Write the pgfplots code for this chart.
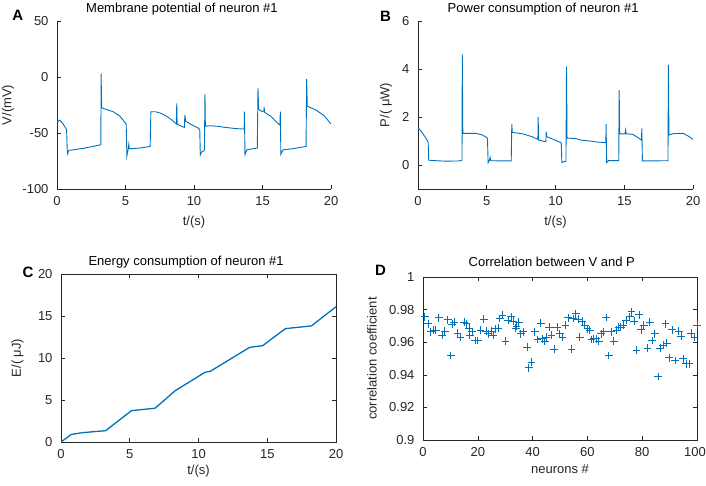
\documentclass[border=0pt]{standalone}
\usepackage{fontspec}
\setmainfont{Liberation Sans}
\usepackage{pgfplots}
\pgfplotsset{compat=1.18}
\definecolor{axgray}{RGB}{38,38,38}
\definecolor{mblue}{RGB}{0,114,189}
\pgfplotsset{
  every axis/.append style={
    scale only axis,
    tick align=inside,
    major tick length=4pt,
    tick label style={font=\fontsize{13}{15}\selectfont, text=axgray},
    label style={font=\fontsize{13}{15}\selectfont, text=axgray},
    title style={font=\fontsize{13}{15}\selectfont, text=black},
    xticklabel style={yshift=-4pt},
    yticklabel style={xshift=-5pt},
  },
  every tick/.append style={axgray, line width=0.6pt},
}
\begin{document}
\begin{tikzpicture}
\path[use as bounding box] (0pt,0pt) rectangle (706pt,-485pt);
% ---------- A ----------
\begin{axis}[at={(57pt,-189pt)}, anchor=south west, width=274pt, height=168pt,
  xmin=0, xmax=20, ymin=-100, ymax=50,
  axis x line=bottom, axis y line=left, axis line style={-, axgray, line width=0.6pt},
  tick align=inside,
  xtick={0,5,10,15,20}, xticklabels={0,5,10,15,20},
  ytick={-100,-50,0,50}, yticklabels={-100,-50,0,50},
  xlabel={t/(s)}, ylabel={V/(mV)},
  title={Membrane potential of neuron \#1},
  title style={at={(axis description cs:0.456,1)}, anchor=base, yshift=2.5pt},
  xlabel style={at={(axis description cs:0.5,-0.196)}, anchor=center},
  ylabel style={at={(axis description cs:-0.179,0.5)}, anchor=center},
]
\addplot[mblue, line width=0.9pt] coordinates {
(0,-40) (0.2,-38.5) (0.45,-42) (0.7,-47) (0.75,-66) (0.78,-68.5) (0.85,-65.5)
(1.2,-65) (2.0,-63.5) (3.2,-60.5) (3.22,3) (3.26,-27.5) (3.6,-29) (4.1,-31)
(4.6,-35) (4.95,-40.5) (5.05,-42) (5.1,-70.5) (5.2,-64) (5.24,-60) (5.28,-64)
(5.4,-64) (6.0,-63.5) (6.8,-62) (6.85,-31) (7.2,-31) (7.6,-32.5) (8.0,-35)
(8.4,-38.5) (8.72,-42) (8.74,-23.5) (8.77,-42) (9.0,-43.5) (9.3,-45) (9.33,-34)
(9.4,-39.5) (9.8,-42.5) (10.3,-45.5) (10.42,-47) (10.46,-69.5) (10.55,-67)
(10.7,-66) (10.76,-65) (10.8,-15) (10.83,-44) (11.2,-43.5) (11.7,-44) (12.3,-45)
(13.0,-46) (13.66,-46.5) (13.68,-31) (13.72,-69.5) (13.85,-65) (14.3,-64)
(14.62,-63.5) (14.67,-10) (14.72,-29) (15.0,-31) (15.1,-30) (15.12,-27)
(15.15,-31.5) (15.6,-35) (16.0,-40) (16.27,-43) (16.3,-31) (16.34,-69)
(16.5,-65) (17.2,-64) (18.18,-62) (18.22,-2) (18.27,-26) (18.9,-29.5)
(19.5,-34.5) (20,-42)
};
\end{axis}
% ---------- B ----------
\begin{axis}[at={(418pt,-189pt)}, anchor=south west, width=275pt, height=168pt,
  xmin=0, xmax=20, ymin=-1, ymax=6,
  axis x line=bottom, axis y line=left, axis line style={-, axgray, line width=0.6pt},
  tick align=inside,
  xtick={0,5,10,15,20}, xticklabels={0,5,10,15,20},
  ytick={0,2,4,6}, yticklabels={0,2,4,6},
  xlabel={t/(s)}, ylabel={P/( μW)},
  title={Power consumption of neuron \#1},
  title style={at={(axis description cs:0.455,1)}, anchor=base, yshift=2.5pt},
  xlabel style={at={(axis description cs:0.5,-0.2)}, anchor=center},
  ylabel style={at={(axis description cs:-0.116,0.5)}, anchor=center},
]
\addplot[mblue, line width=0.9pt] coordinates {
(0,1.53) (0.1,1.5) (0.36,1.3) (0.6,1.1) (0.74,0.95) (0.78,0.2) (1.0,0.19)
(2.0,0.16) (3.0,0.17) (3.2,0.2) (3.22,4.62) (3.26,1.32) (4.2,1.32) (4.7,1.25)
(5.05,1.12) (5.1,0.1) (5.2,0.2) (5.25,0.32) (5.3,0.18) (6.0,0.17) (6.78,0.17)
(6.82,1.7) (6.86,1.36) (7.6,1.3) (8.3,1.18) (8.72,1.07) (8.74,2.0) (8.77,1.04)
(9.2,0.98) (9.3,0.98) (9.32,1.39) (9.36,1.18) (9.8,1.08) (10.2,0.98) (10.42,0.92)
(10.46,0.1) (10.6,0.14) (10.76,0.15) (10.8,4.1) (10.84,1.12) (11.5,1.1)
(11.8,1.04) (12.5,1.0) (13.0,0.96) (13.66,0.93) (13.68,1.7) (13.72,0.1)
(13.85,0.18) (14.6,0.18) (14.63,3.12) (14.67,1.3) (15.05,1.3) (15.1,1.46)
(15.14,1.3) (15.6,1.28) (15.9,1.18) (16.25,1.04) (16.28,1.53) (16.32,0.17)
(17.0,0.17) (18.18,0.18) (18.21,4.17) (18.25,1.25) (18.6,1.31) (19.27,1.32)
(19.64,1.21) (20,1.07)
};
\end{axis}
% ---------- C ----------
\begin{axis}[at={(61pt,-442pt)}, anchor=south west, width=275pt, height=168pt,
  xmin=0, xmax=20, ymin=0, ymax=20,
  axis line style={axgray, line width=0.6pt},
  xtick={0,5,10,15,20}, xticklabels={0,5,10,15,20},
  ytick={0,5,10,15,20}, yticklabels={0,5,10,15,20},
  xlabel={t/(s)}, ylabel={E/( μJ)},
  title={Energy consumption of neuron \#1},
  title style={at={(axis description cs:0.455,1)}, anchor=base, yshift=3pt},
  xlabel style={at={(axis description cs:0.5,-0.173)}, anchor=center},
  ylabel style={at={(axis description cs:-0.158,0.5)}, anchor=center},
]
\addplot[mblue, line width=1.3pt] coordinates {
(0,0) (0.75,0.9) (1.6,1.12) (3.25,1.35) (5.12,3.73) (6.84,4.02) (8.3,6.1)
(10.47,8.3) (10.84,8.4) (13.72,11.27) (14.67,11.47) (16.32,13.5) (18.21,13.82)
(20,16.1)
};
\end{axis}
% ---------- D ----------
\begin{axis}[at={(423pt,-440pt)}, anchor=south west, width=274pt, height=163pt,
  xmin=0, xmax=100, ymin=0.9, ymax=1,
  clip mode=individual,
  axis line style={axgray, line width=0.6pt},
  xtick={0,20,40,60,80,100}, xticklabels={0,20,40,60,80,{\kern-4pt 100}},
  ytick={0.9,0.92,0.94,0.96,0.98,1}, yticklabels={0.9,0.92,0.94,0.96,0.98,1},
  xlabel={neurons \#}, ylabel={correlation coefficient},
  title={Correlation between V and P},
  title style={at={(axis description cs:0.47,1)}, anchor=base, yshift=5pt},
  xlabel style={at={(axis description cs:0.5,-0.18)}, anchor=center},
  ylabel style={at={(axis description cs:-0.186,0.5)}, anchor=center},
]
\addplot[mblue, only marks, mark=+, mark size=3.9pt, mark options={line width=0.9pt}] coordinates {
(0.6,.9755) (1.9,.9714) (2.8,.9663) (3.8,.9673) (4.7,.9673) (5.8,.9749) (7.0,.9642)
(8.0,.9667) (9.0,.9738) (10.1,.9519) (10.7,.9710) (11.4,.9724) (12.6,.9656)
(13.7,.9632) (15.0,.9724) (15.9,.9714) (16.9,.9687) (17.1,.9642) (18.0,.9663)
(19.0,.9611) (20.0,.9611) (21.0,.9673) (22.2,.9740) (23.0,.9667) (23.8,.9652)
(24.8,.9667) (25.6,.9642) (26.5,.9683) (27.5,.9687) (28.0,.9745) (29.0,.9765)
(30.1,.9605) (31.1,.9734) (32.1,.9755) (32.9,.9728) (33.8,.9687) (34.1,.9697)
(35.0,.9724) (35.7,.9652) (36.6,.9663) (38.0,.9570) (38.6,.9443) (39.6,.9478)
(40.8,.9663) (41.8,.9617) (43.0,.9718) (43.5,.9622) (44.5,.9607) (45.0,.9632)
(46.0,.9693) (46.9,.9642) (47.9,.9556) (49.0,.9693) (49.9,.9652) (50.9,.9632)
(52.0,.9704) (53.0,.9749) (54.2,.9556) (54.8,.9745) (55.8,.9775) (56.6,.9740)
(57.2,.9632) (58.2,.9730) (59.0,.9704) (60.0,.9683) (60.9,.9673) (61.5,.9617)
(62.3,.9622) (63.3,.9622) (64.2,.9607) (65.1,.9652) (66.0,.9663) (66.9,.9751)
(67.8,.9519) (68.7,.9663) (69.6,.9607) (70.6,.9673) (71.4,.9693) (72.2,.9693)
(73.0,.9704) (74.2,.9734) (75.5,.9755) (76.1,.9786) (77.0,.9730) (77.9,.9550)
(78.9,.9769) (79.7,.9677) (80.6,.9704) (81.9,.9564) (82.7,.9724) (83.6,.9611)
(84.6,.9652) (85.8,.9390) (86.6,.9564) (87.6,.9581) (88.5,.9714) (89.0,.9595)
(89.8,.9505) (91.0,.9677) (92.1,.9488) (93.3,.9667) (94.3,.9636) (94.9,.9498)
(96.1,.9468) (97.1,.9468) (97.9,.9656) (99.1,.9632) (100.0,.9704)
};
\end{axis}
% panel letters
\node[font=\bfseries\fontsize{15}{17}\selectfont] at (17.7pt,-15.3pt) {A};
\node[font=\bfseries\fontsize{15}{17}\selectfont] at (385.5pt,-16.7pt) {B};
\node[font=\bfseries\fontsize{15}{17}\selectfont] at (28pt,-272pt) {C};
\node[font=\bfseries\fontsize{15}{17}\selectfont] at (380.5pt,-270.5pt) {D};
\end{tikzpicture}
\end{document}
